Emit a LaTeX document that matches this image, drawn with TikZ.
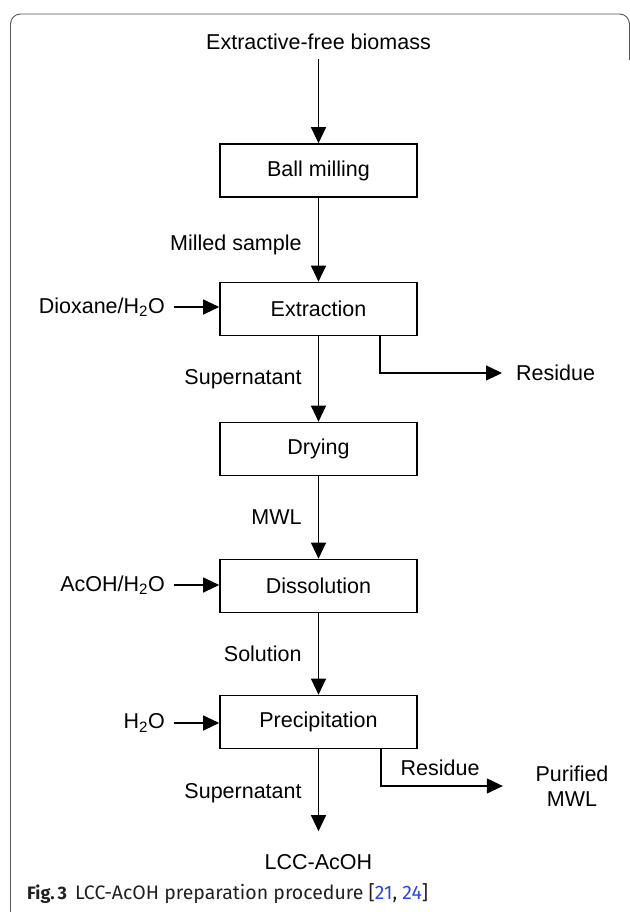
\documentclass[tikz,border=0pt]{standalone}
\usepackage{fontspec}
\setmainfont{Liberation Sans}
\newfontfamily\capfont{Fira Sans}
\usetikzlibrary{arrows.meta}
\definecolor{marco}{RGB}{85,85,85}
\definecolor{enlace}{RGB}{45,70,225}
\definecolor{textocap}{RGB}{35,31,32}
\tikzset{
  caja/.style={draw, line width=1.6pt, minimum width=197pt, minimum height=53pt, inner sep=0pt},
  flujo/.style={line width=1.1pt, -{Triangle[length=16pt,width=15pt]}},
  texto/.style={inner sep=3pt},
}
\begin{document}
\begin{tikzpicture}[x=1pt, y=-1pt, font=\fontsize{21.5}{25}\selectfont]
    \useasboundingbox (0,0) rectangle (629,912);
    % Marco
    \draw[marco, line width=0.9pt, rounded corners=10pt] (10.5,912) -- (10.5,14) -- (629.5,14) -- (629.5,60);

    % Cajas del proceso
    \node[caja] (ball) at (318.5,170.5) {Ball milling};
    \node[caja] (extr) at (318.5,309) {Extraction};
    \node[caja] (dry) at (318.5,449) {Drying};
    \node[caja] (diss) at (318.5,586) {Dissolution};
    \node[caja] (prec) at (318.5,722) {Precipitation};

    % Entrada, salida y reactivos
    \node[texto] (src) at (318.5,42) {Extractive-free biomass};
    \node[texto] (lcc) at (318.5,862) {LCC-AcOH};
    \node[texto, anchor=east] (diox) at (168,307) {Dioxane/H\textsubscript{2}O};
    \node[texto, anchor=east] (acoh) at (168,585) {AcOH/H\textsubscript{2}O};
    \node[texto, anchor=east] (agua) at (168,723) {H\textsubscript{2}O};
    \node[texto, anchor=west] (res) at (513,373) {Residue};
    \node[texto, align=center] (pmwl) at (572,786) {Purified\\MWL};

    % Flechas principales
    \draw[flujo, shorten <=6pt] (src) -- (ball);
    \draw[flujo] (ball) -- node[pos=0.56, left=13pt] {Milled sample} (extr);
    \draw[flujo] (extr) -- node[left=13pt] {Supernatant} (dry);
    \draw[flujo] (dry) -- node[left=13pt] {MWL} (diss);
    \draw[flujo] (diss) -- node[left=13pt] {Solution} (prec);
    \draw[flujo, shorten >=20pt] (prec) -- node[pos=0.43, left=13pt] {Supernatant} (lcc);

    % Reactivos
    \draw[flujo, shorten <=6pt] (diox.east) -- (diox.east -| extr.west);
    \draw[flujo, shorten <=6pt] (acoh.east) -- (acoh.east -| diss.west);
    \draw[flujo, shorten <=6pt] (agua.east) -- (agua.east -| prec.west);

    % Residuos
    \draw[flujo, shorten >=11pt] ([xshift=61.5pt]extr.south) |- (res.west);
    \draw[flujo, shorten >=29.5pt] ([xshift=62.5pt]prec.south) |- node[pos=0.695, above=6pt] {Residue} (pmwl.west);

    % Pie de figura
    \node[anchor=base west, inner sep=0pt, font=\capfont\fontsize{19.5}{22}\selectfont, text=textocap] (cap) at (27,899)
        {{\fontsize{18}{22}\selectfont\bfseries Fig.\,3}\hspace{8pt}LCC-AcOH preparation procedure [\textcolor{enlace}{21}, \textcolor{enlace}{24}]};
\end{tikzpicture}
\end{document}
